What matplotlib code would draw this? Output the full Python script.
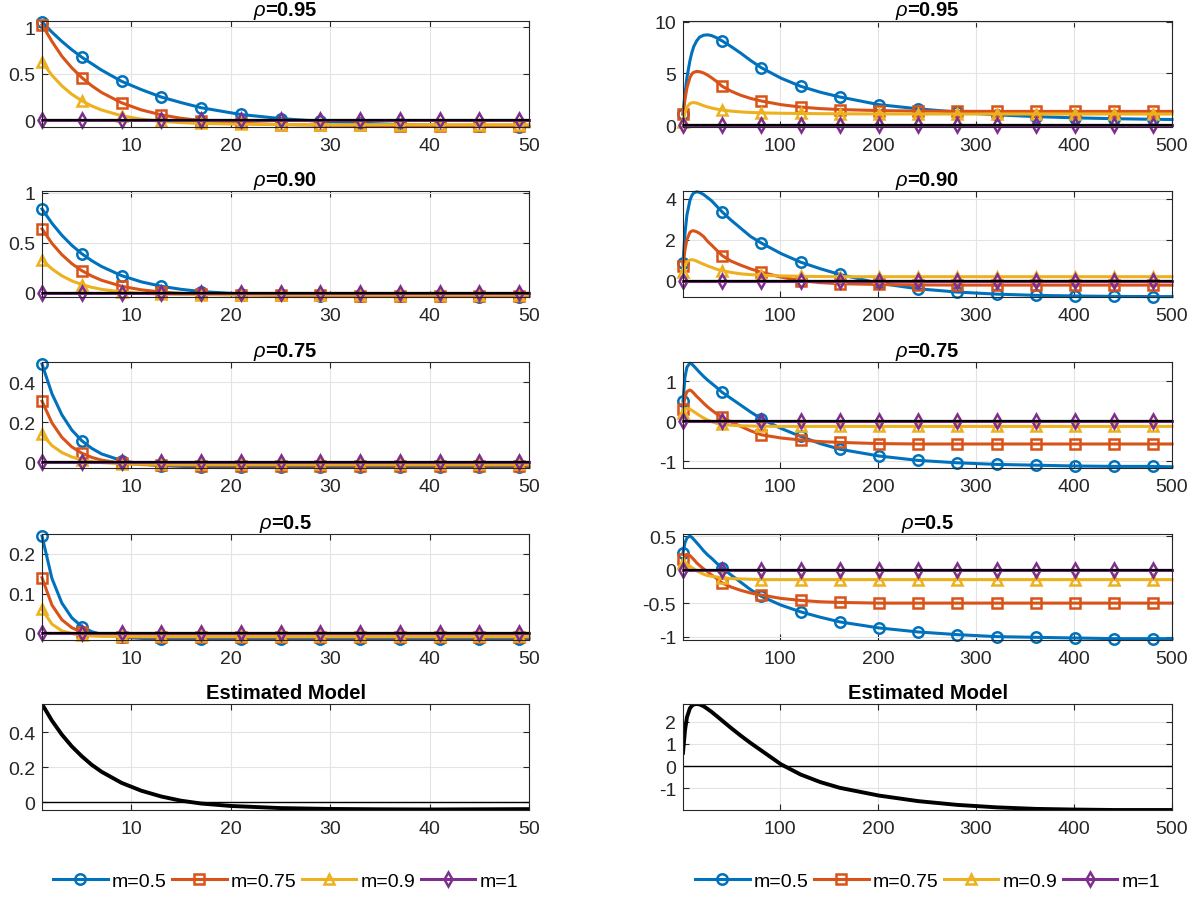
import numpy as np
import matplotlib.pyplot as plt
from matplotlib.ticker import FuncFormatter

plt.rcParams["font.family"] = ["Liberation Sans", "DejaVu Sans"]
plt.rcParams["mathtext.fontset"] = "custom"
plt.rcParams["mathtext.it"] = "Liberation Sans:italic"

# short horizon (lags 1..50)
x_short = [1, 2, 3, 4, 5, 6, 7, 9, 11, 13, 15, 17, 21, 25, 29, 33, 37, 41, 45, 49, 50]
mark_short = [1, 5, 9, 13, 17, 21, 25, 29, 33, 37, 41, 45, 49]

short_095_m05 = [1.06, 0.95, 0.85, 0.76, 0.68, 0.61, 0.54, 0.42, 0.33, 0.25, 0.19, 0.135, 0.062, 0.018,
                 -0.012, -0.032, -0.046, -0.056, -0.063, -0.068, -0.069]
short_095_m075 = [1.03, 0.85, 0.69, 0.565, 0.46, 0.372, 0.299, 0.188, 0.111, 0.058, 0.021, -0.004, -0.033,
                  -0.047, -0.053, -0.056, -0.057, -0.058, -0.058, -0.058, -0.058]
short_095_m09 = [0.63, 0.485, 0.37, 0.28, 0.21, 0.154, 0.11, 0.049, 0.011, -0.012, -0.026, -0.035, -0.043,
                 -0.047, -0.048, -0.048, -0.048, -0.048, -0.048, -0.048, -0.048]

short_090_m05 = [0.84, 0.696, 0.575, 0.474, 0.39, 0.32, 0.261, 0.17, 0.107, 0.063, 0.032, 0.01, -0.015,
                 -0.028, -0.034, -0.037, -0.038, -0.039, -0.04, -0.04, -0.04]
short_090_m075 = [0.64, 0.494, 0.38, 0.29, 0.22, 0.166, 0.123, 0.063, 0.027, 0.005, -0.009, -0.017, -0.024,
                  -0.028, -0.029, -0.03, -0.03, -0.03, -0.03, -0.03, -0.03]
short_090_m09 = [0.33, 0.237, 0.168, 0.117, 0.08, 0.052, 0.032, 0.006, -0.008, -0.016, -0.02, -0.022, -0.024,
                 -0.025, -0.025, -0.025, -0.025, -0.025, -0.025, -0.025, -0.025]

short_075_m05 = [0.49, 0.342, 0.237, 0.161, 0.108, 0.07, 0.042, 0.009, -0.008, -0.016, -0.02, -0.022, -0.024,
                 -0.025, -0.025, -0.025, -0.025, -0.025, -0.025, -0.025, -0.025]
short_075_m075 = [0.305, 0.197, 0.125, 0.077, 0.046, 0.025, 0.011, -0.004, -0.011, -0.014, -0.015, -0.016,
                  -0.016, -0.016, -0.016, -0.016, -0.016, -0.016, -0.016, -0.016, -0.016]
short_075_m09 = [0.14, 0.084, 0.049, 0.027, 0.013, 0.004, -0.001, -0.007, -0.009, -0.01, -0.01, -0.01, -0.01,
                 -0.01, -0.01, -0.01, -0.01, -0.01, -0.01, -0.01, -0.01]

short_050_m05 = [0.245, 0.138, 0.076, 0.039, 0.017, 0.004, -0.003, -0.01, -0.013, -0.014, -0.014, -0.014,
                 -0.014, -0.014, -0.014, -0.014, -0.014, -0.014, -0.014, -0.014, -0.014]
short_050_m075 = [0.14, 0.071, 0.034, 0.014, 0.003, -0.003, -0.006, -0.009, -0.01, -0.01, -0.01, -0.01,
                  -0.01, -0.01, -0.01, -0.01, -0.01, -0.01, -0.01, -0.01, -0.01]
short_050_m09 = [0.06, 0.023, 0.006, -0.001, -0.005, -0.007, -0.008, -0.008, -0.008, -0.008, -0.008, -0.008,
                 -0.008, -0.008, -0.008, -0.008, -0.008, -0.008, -0.008, -0.008, -0.008]

short_m1 = [0, 0, 0, 0, 0, 0, 0, 0, 0, 0, 0, 0, 0, 0, 0, 0, 0, 0, 0, 0, 0]

x_est_short = [1, 2, 3, 4, 5, 6, 7, 9, 11, 13, 15, 17, 20, 25, 30, 35, 40, 45, 50]
est_short = [0.56, 0.465, 0.385, 0.318, 0.262, 0.213, 0.173, 0.11, 0.065, 0.032, 0.008, -0.008, -0.022,
             -0.034, -0.039, -0.041, -0.042, -0.041, -0.04]

# long horizon (lags 1..500)
x_long = [1, 3, 5, 8, 10, 12, 15, 18, 22, 26, 30, 35, 41, 50, 60, 70, 81, 101, 121, 141, 161, 201, 241,
          281, 321, 361, 401, 441, 481, 500]
mark_long = [1, 41, 81, 121, 161, 201, 241, 281, 321, 361, 401, 441, 481]

long_095_m05 = [1.1, 3.0, 4.6, 6.2, 7.0, 7.6, 8.15, 8.5, 8.68, 8.72, 8.65, 8.45, 8.13, 7.6, 6.95, 6.25, 5.55,
                4.55, 3.77, 3.2, 2.74, 2.0, 1.6, 1.28, 1.02, 0.85, 0.73, 0.65, 0.59, 0.57]
long_095_m075 = [1.1, 2.5, 3.6, 4.6, 4.95, 5.12, 5.2, 5.17, 5.05, 4.85, 4.6, 4.25, 3.77, 3.3, 2.9, 2.6, 2.35,
                 2.0, 1.77, 1.62, 1.53, 1.43, 1.38, 1.36, 1.35, 1.35, 1.35, 1.35, 1.35, 1.35]
long_095_m09 = [0.3, 1.2, 1.75, 2.1, 2.18, 2.2, 2.15, 2.05, 1.9, 1.78, 1.68, 1.58, 1.48, 1.38, 1.3, 1.25, 1.21,
                1.17, 1.15, 1.13, 1.12, 1.1, 1.1, 1.1, 1.1, 1.1, 1.1, 1.1, 1.1, 1.1]

long_090_m05 = [0.85, 2.3, 3.2, 3.9, 4.15, 4.28, 4.33, 4.3, 4.2, 4.05, 3.9, 3.65, 3.35, 2.95, 2.55, 2.15, 1.83,
                1.32, 0.9, 0.58, 0.3, -0.13, -0.4, -0.56, -0.66, -0.72, -0.75, -0.77, -0.78, -0.78]
long_090_m075 = [0.7, 1.5, 2.0, 2.35, 2.42, 2.43, 2.38, 2.3, 2.15, 1.92, 1.74, 1.5, 1.22, 0.95, 0.75, 0.57, 0.41,
                 0.17, 0.0, -0.1, -0.15, -0.19, -0.21, -0.22, -0.22, -0.22, -0.22, -0.22, -0.22, -0.22]
long_090_m09 = [0.4, 0.75, 0.92, 1.0, 1.02, 1.0, 0.95, 0.88, 0.8, 0.72, 0.65, 0.56, 0.48, 0.4, 0.33, 0.29, 0.26,
                0.23, 0.21, 0.2, 0.19, 0.19, 0.19, 0.19, 0.19, 0.19, 0.19, 0.19, 0.19, 0.19]

long_075_m05 = [0.5, 1.1, 1.35, 1.45, 1.43, 1.38, 1.3, 1.22, 1.12, 1.03, 0.95, 0.85, 0.72, 0.57, 0.4, 0.23, 0.06,
                -0.18, -0.38, -0.56, -0.7, -0.87, -0.98, -1.04, -1.08, -1.1, -1.12, -1.13, -1.13, -1.14]
long_075_m075 = [0.3, 0.6, 0.74, 0.78, 0.75, 0.7, 0.62, 0.55, 0.45, 0.36, 0.28, 0.19, 0.1, -0.02, -0.13, -0.24,
                 -0.34, -0.42, -0.47, -0.51, -0.53, -0.56, -0.57, -0.57, -0.57, -0.57, -0.57, -0.57, -0.57, -0.57]
long_075_m09 = [0.2, 0.3, 0.32, 0.3, 0.27, 0.24, 0.19, 0.14, 0.08, 0.03, -0.01, -0.05, -0.08, -0.1, -0.115, -0.12,
                -0.125, -0.13, -0.13, -0.13, -0.13, -0.13, -0.13, -0.13, -0.13, -0.13, -0.13, -0.13, -0.13, -0.13]

long_050_m05 = [0.25, 0.4, 0.47, 0.5, 0.48, 0.45, 0.4, 0.35, 0.28, 0.22, 0.17, 0.1, 0.02, -0.08, -0.19, -0.3,
                -0.4, -0.53, -0.63, -0.71, -0.78, -0.87, -0.93, -0.97, -1.0, -1.01, -1.02, -1.03, -1.03, -1.03]
long_050_m075 = [0.15, 0.2, 0.22, 0.21, 0.18, 0.15, 0.1, 0.06, 0.01, -0.03, -0.08, -0.13, -0.2, -0.26, -0.31,
                 -0.35, -0.38, -0.43, -0.46, -0.48, -0.49, -0.5, -0.5, -0.5, -0.5, -0.5, -0.5, -0.5, -0.5, -0.5]
long_050_m09 = [0.1, 0.1, 0.08, 0.05, 0.03, 0.01, -0.02, -0.04, -0.07, -0.09, -0.1, -0.11, -0.12, -0.135, -0.14,
                -0.145, -0.15, -0.15, -0.15, -0.15, -0.15, -0.15, -0.15, -0.15, -0.15, -0.15, -0.15, -0.15,
                -0.15, -0.15]

long_m1 = [0, 0, 0, 0, 0, 0, 0, 0, 0, 0, 0, 0, 0, 0, 0, 0, 0, 0, 0, 0, 0, 0, 0, 0, 0, 0, 0, 0, 0, 0]

est_long = [0.6, 1.6, 2.2, 2.6, 2.72, 2.78, 2.8, 2.78, 2.7, 2.58, 2.45, 2.27, 2.05, 1.72, 1.37, 1.04, 0.7,
            0.08, -0.38, -0.72, -0.98, -1.33, -1.58, -1.75, -1.86, -1.93, -1.96, -1.98, -1.98, -1.98]

series_labels = ["m=0.5", "m=0.75", "m=0.9", "m=1"]
rho_titles = [r"$\rho$=0.95", r"$\rho$=0.90", r"$\rho$=0.75", r"$\rho$=0.5"]

short_panels = [
    [short_095_m05, short_095_m075, short_095_m09, short_m1],
    [short_090_m05, short_090_m075, short_090_m09, short_m1],
    [short_075_m05, short_075_m075, short_075_m09, short_m1],
    [short_050_m05, short_050_m075, short_050_m09, short_m1],
]
long_panels = [
    [long_095_m05, long_095_m075, long_095_m09, long_m1],
    [long_090_m05, long_090_m075, long_090_m09, long_m1],
    [long_075_m05, long_075_m075, long_075_m09, long_m1],
    [long_050_m05, long_050_m075, long_050_m09, long_m1],
]

short_ylims = [(-0.073, 1.07), (-0.045, 1.02), (-0.028, 0.5), (-0.017, 0.25), (-0.045, 0.56)]
short_yticks = [[0, 0.5, 1], [0, 0.5, 1], [0, 0.2, 0.4], [0, 0.1, 0.2], [0, 0.2, 0.4]]
long_ylims = [(-0.15, 10.05), (-0.8, 4.37), (-1.17, 1.48), (-1.05, 0.53), (-1.98, 2.8)]
long_yticks = [[0, 5, 10], [0, 2, 4], [-1, 0, 1], [-1, -0.5, 0, 0.5], [-1, 0, 1, 2]]

colors = ["#0072BD", "#D95319", "#EDB120", "#7E2F8E"]
markers = ["o", "s", "^", "d"]
AX_COLOR = "#262626"
GRID_COLOR = "#e3e3e3"

W, H = 1201, 903
fig = plt.figure(figsize=(W / 100, H / 100), dpi=100)

col_left = [(42, 529), (683, 1172)]
row_tops = [22, 192, 363, 535, 705]
row_h = 106


def style_axes(ax, xlim, xticks, ylim, yticks):
    ax.set_xlim(*xlim)
    ax.set_ylim(*ylim)
    ax.set_xticks(xticks)
    ax.set_yticks(yticks)
    ax.yaxis.set_major_formatter(FuncFormatter(lambda v, p: f"{v:g}"))
    ax.grid(True, color=GRID_COLOR, linewidth=0.8)
    ax.set_axisbelow(True)
    ax.tick_params(direction="in", top=True, right=True, length=4, width=0.8,
                   colors=AX_COLOR, labelsize=14)
    ax.tick_params(axis="x", pad=7)
    ax.tick_params(axis="y", pad=5)
    for sp in ax.spines.values():
        sp.set_color(AX_COLOR)
        sp.set_linewidth(0.8)


legend_handles = {}
for col in range(2):
    x0, x1 = col_left[col]
    if col == 0:
        xs, marks, panels = x_short, mark_short, short_panels
        xlim, xticks = (1, 50), [10, 20, 30, 40, 50]
        ylims, yticks = short_ylims, short_yticks
    else:
        xs, marks, panels = x_long, mark_long, long_panels
        xlim, xticks = (1, 500), [100, 200, 300, 400, 500]
        ylims, yticks = long_ylims, long_yticks
    mark_idx = [i for i, v in enumerate(xs) if v in marks]

    for row in range(5):
        rect = [x0 / W, 1 - (row_tops[row] + row_h) / H, (x1 - x0) / W, row_h / H]
        ax = fig.add_axes(rect)
        style_axes(ax, xlim, xticks, ylims[row], yticks[row])
        if row < 4:
            handles = []
            for k, ys in enumerate(panels[row]):
                (ln,) = ax.plot(xs, ys, color=colors[k], linewidth=2.2, marker=markers[k],
                                markevery=mark_idx, markersize=7.5, markerfacecolor="none",
                                markeredgewidth=1.8, label=series_labels[k], clip_on=False)
                handles.append(ln)
            ax.axhline(0, color="black", linewidth=1.6, zorder=3)
            ax.set_title(rho_titles[row], fontsize=14.5, fontweight="bold", pad=4)
            if row == 0:
                legend_handles[col] = handles
        else:
            if col == 0:
                ax.plot(x_est_short, est_short, color="black", linewidth=2.8)
            else:
                ax.plot(x_long, est_long, color="black", linewidth=2.8)
            ax.axhline(0, color="black", linewidth=1.0)
            ax.set_title("Estimated Model", fontsize=14.5, fontweight="bold", pad=4)

    fig.legend(legend_handles[col], series_labels, loc="center",
               bbox_to_anchor=((x0 + x1) / 2 / W, 1 - 882 / H), ncol=4, frameon=False,
               fontsize=14, handlelength=2.8, handletextpad=0.2, columnspacing=0.3,
               borderaxespad=0)

fig.savefig("out.png", dpi=100)
